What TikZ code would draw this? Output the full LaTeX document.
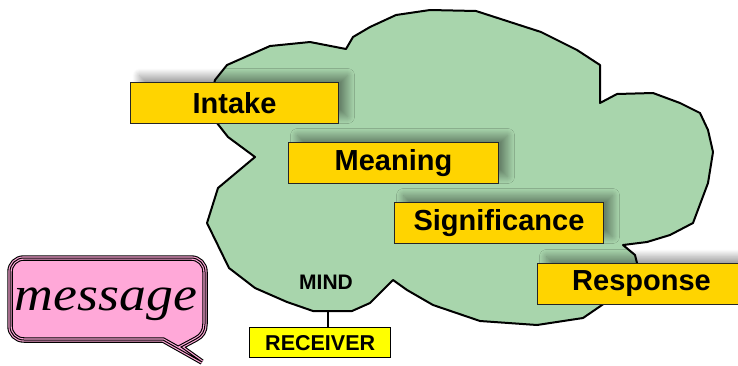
\documentclass[tikz,border=0pt]{standalone}
\usepackage{fontspec}
\usepackage{graphicx}
\newfontfamily\lab{Liberation Sans}
\newfontfamily\msgfont{Liberation Serif}
\usetikzlibrary{shadows.blur}
\definecolor{cloudgreen}{RGB}{168,213,172}
\definecolor{boxgold}{RGB}{255,212,0}
\definecolor{msgpink}{RGB}{255,168,216}
\definecolor{recyellow}{RGB}{255,255,0}
\begin{document}
\begin{tikzpicture}[x=1pt,y=-1pt,
  stagebox/.style={draw=black!85, line width=1pt, fill=boxgold, inner sep=0pt,
    minimum height=41pt, anchor=north west,
    font=\lab\bfseries\fontsize{29}{33}\selectfont,
    blur shadow={shadow xshift=9pt, shadow yshift=7pt, shadow blur radius=7pt,
      shadow blur steps=14, shadow opacity=38}},
  recbox/.style={draw=black, line width=1.4pt, fill=recyellow, inner sep=0pt,
    minimum width=141pt, minimum height=30pt, anchor=north west,
    font=\lab\bfseries\fontsize{21.5}{24}\selectfont},
  cloudline/.style={draw=black, line width=2pt, fill=cloudgreen, line join=round},
  connector/.style={draw=black, line width=1.4pt}
]
\useasboundingbox (0,0) rectangle (738,365);

% cloud
\path[cloudline] (207,223) -- (218,188) -- (255,157) -- (228,137) -- (217,123) -- (210,100)
  -- (215,80) -- (227,65) -- (270,46) -- (310,42) -- (346,49) -- (353,37) -- (370,27)
  -- (396,15) -- (430,10) -- (476,11) -- (541,32) -- (577,50) -- (600,65) -- (600,103)
  -- (617,94) -- (653,93) -- (680,103) -- (700,113) -- (708,130) -- (713,152) -- (708,183)
  -- (693,223) -- (670,235) -- (647,242) -- (623,245) -- (635,255) -- (640,275)
  -- (602,305) -- (583,318) -- (537,325) -- (480,321) -- (433,305) -- (407,290)
  -- (393,280) -- (383,290) -- (370,303) -- (352,311) -- (313,311) -- (287,302)
  -- (255,288) -- (229,268) -- cycle;

\coordinate (mindbottom) at (328,311);
\node[font=\lab\bfseries\fontsize{21}{24}\selectfont] (mind) at (326,282) {MIND};

% stage boxes
\node[stagebox, minimum width=208pt] (intake) at (130,82) {Intake};
\node[stagebox, minimum width=210pt] (meaning) at (288,142) {Meaning};
\node[stagebox, minimum width=209pt] (significance) at (394,202) {Significance};
\node[stagebox, minimum width=208pt] (response) at (537,263) {Response};

% receiver
\node[recbox] (receiver) at (249,327) {RECEIVER};
\draw[connector] (mindbottom) -- (receiver.north -| mindbottom);

% message bubble
\def\msgpath{(24,258) -- (191,258) .. controls (199,258) and (205,264) .. (205,272)
  -- (205,324) .. controls (205,331) and (202,336) .. (196,339) -- (181,347) -- (202,362)
  -- (163,340) -- (24,340) .. controls (16,340) and (10,334) .. (10,326) -- (10,272)
  .. controls (10,264) and (16,258) .. (24,258) -- cycle}
\path[draw=black, line width=5.5pt, line join=miter, fill=msgpink] \msgpath;
\path[draw=msgpink, line width=3.3pt, line join=miter] \msgpath;
\path[draw=black, line width=1pt, line join=miter] \msgpath;
\node[anchor=base, inner sep=0pt] (message) at (106,310)
  {\msgfont\fontsize{48}{48}\selectfont\itshape\scalebox{1.12}[1]{message}};
\end{tikzpicture}
\end{document}
